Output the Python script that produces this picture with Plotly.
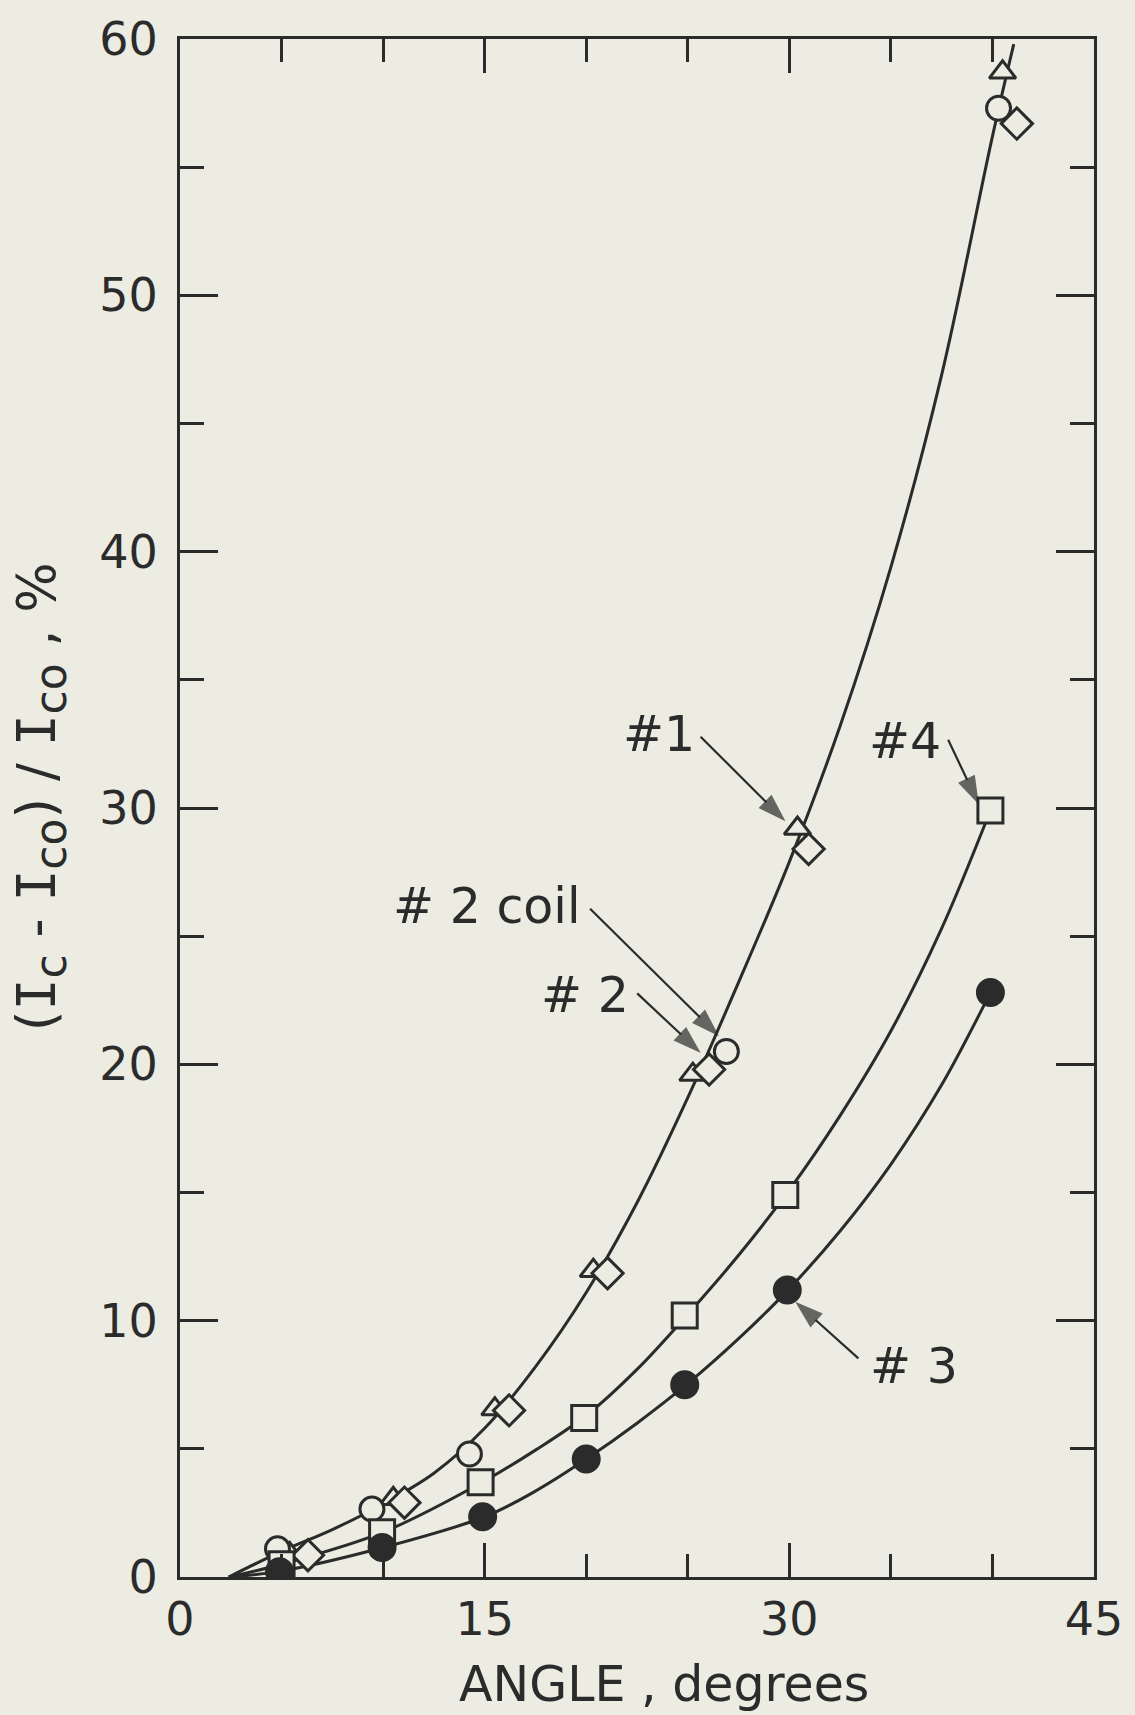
import plotly.graph_objects as go

BG = "#ecece2"
INK = "#2b2b2b"
FONT = "DejaVu Sans"

# ---- data ----
tri_x = [5.4, 10.5, 15.5, 20.35, 25.25, 30.4, 40.5]
tri_y = [0.9, 3.05, 6.55, 11.95, 19.6, 29.2, 58.7]
dia_x = [6.3, 11.05, 16.2, 21.05, 26.05, 30.95, 41.2]
dia_y = [0.85, 2.9, 6.5, 11.85, 19.8, 28.4, 56.7]
circ_x = [4.8, 9.45, 14.25, 26.9, 40.3]
circ_y = [1.1, 2.65, 4.8, 20.5, 57.3]
sq_x = [5.0, 9.95, 14.8, 19.9, 24.85, 29.8, 39.9]
sq_y = [0.5, 1.75, 3.7, 6.2, 10.2, 14.9, 29.9]
dot_x = [4.9, 9.95, 14.9, 20.0, 24.85, 29.9, 39.9]
dot_y = [0.2, 1.15, 2.35, 4.6, 7.5, 11.2, 22.8]

# smooth hand-drawn curves, positions
c_top_x = [2.4, 5.0, 7.5, 10.0, 12.5, 15.0, 17.5, 20.0, 22.5, 25.0, 27.5, 30.0, 32.5, 35.0, 37.5, 40.0, 41.05]
c_top_y = [0.0, 1.0, 1.85, 2.85, 4.05, 5.8, 8.2, 11.1, 14.6, 18.7, 23.2, 27.9, 33.2, 39.4, 46.9, 56.2, 59.8]
c_sq_x = [2.4, 5.0, 10.0, 15.0, 17.5, 20.0, 22.5, 25.0, 27.5, 30.0, 32.5, 35.0, 37.5, 39.9]
c_sq_y = [0.0, 0.5, 1.75, 3.75, 4.95, 6.3, 8.1, 10.25, 12.55, 15.1, 18.0, 21.3, 25.3, 29.9]
c_dot_x = [2.4, 4.9, 10.0, 15.0, 17.5, 20.0, 22.5, 25.0, 27.5, 30.0, 32.5, 35.0, 37.5, 39.9]
c_dot_y = [0.0, 0.22, 1.15, 2.35, 3.35, 4.6, 6.0, 7.55, 9.3, 11.25, 13.5, 16.1, 19.2, 22.8]

x_ticks = [0, 15, 30, 45]
x_minor = [5, 10, 20, 25, 35, 40]
y_ticks = [0, 10, 20, 30, 40, 50, 60]
y_minor = [5, 15, 25, 35, 45, 55]

# labels: text, (x, y) of text, anchor, arrow tail, arrow head
labels = [
    ("#1", 25.45, 32.85, "right", (25.63, 32.78), (29.81, 29.48)),
    ("#4", 37.55, 32.6, "right", (37.82, 32.66), (39.33, 30.14)),
    ("# 2 coil", 19.85, 26.14, "right", (20.19, 26.07), (26.54, 21.1)),
    ("# 2", 22.2, 22.69, "right", (22.51, 22.77), (25.64, 20.44)),
    ("# 3", 33.85, 8.22, "left", (33.4, 8.53), (30.29, 10.74)),
]

fig = go.Figure()

for cx, cy in [(c_top_x, c_top_y), (c_sq_x, c_sq_y), (c_dot_x, c_dot_y)]:
    fig.add_trace(go.Scatter(x=cx, y=cy, mode="lines",
                             line=dict(color=INK, width=3, shape="spline", smoothing=1.0),
                             hoverinfo="skip"))

def mk(x, y, symbol, size, filled=False):
    fig.add_trace(go.Scatter(
        x=x, y=y, mode="markers",
        marker=dict(symbol=symbol, size=size,
                    color=INK if filled else BG,
                    line=dict(color=INK, width=3))))

mk(tri_x, tri_y, "triangle-up", 23)
mk(dia_x, dia_y, "diamond", 24)
mk(circ_x, circ_y, "circle", 24)
mk(sq_x, sq_y, "square", 25)
mk(dot_x, dot_y, "circle", 26, filled=True)

for text, tx, ty, anc, tail, head in labels:
    fig.add_annotation(x=tx, y=ty, text=text, showarrow=False, xanchor=anc,
                       yanchor="middle", font=dict(family=FONT, size=49, color=INK))
    fig.add_trace(go.Scatter(
        x=[tail[0], head[0]], y=[tail[1], head[1]], mode="lines+markers",
        line=dict(color=INK, width=2.2),
        marker=dict(symbol=["circle", "arrow"], size=[0, 30], color=INK,
                    angleref="previous", line=dict(width=0)),
        hoverinfo="skip"))

axis_common = dict(
    showgrid=False, zeroline=False, showline=True, linewidth=3, linecolor=INK,
    mirror="ticks", ticks="inside", tickwidth=3, tickcolor=INK,
    tickfont=dict(family=FONT, size=46, color=INK),
    ticklabeloverflow="allow",
)

fig.update_xaxes(range=[0, 45], tickvals=x_ticks, ticklen=34,
                 minor=dict(tickvals=x_minor, ticklen=23, tickwidth=3,
                            tickcolor=INK, ticks="inside"),
                 **axis_common)
fig.update_yaxes(range=[0, 60], tickvals=y_ticks, ticklen=38,
                 ticklabelstandoff=10,
                 minor=dict(tickvals=y_minor, ticklen=24, tickwidth=3,
                            tickcolor=INK, ticks="inside"),
                 **axis_common)

I = "<span style=\"font-family:'DejaVu Sans Mono'\">I</span>"
def sub(s):
    return f"<sub><span style=\"font-size:44px\">{s}</span></sub>"
ytitle = f"({I}{sub('c')} - {I}{sub('co')}) / {I}{sub('co')} , %"
fig.add_annotation(xref="paper", yref="paper", x=0, y=0.507, xshift=-139,
                   text=ytitle, textangle=-90, showarrow=False,
                   xanchor="center", yanchor="middle",
                   font=dict(family=FONT, size=53, color=INK))
fig.add_annotation(xref="paper", yref="paper", x=0.529, y=0, yshift=-107,
                   text="ANGLE , degrees", showarrow=False,
                   xanchor="center", yanchor="middle",
                   font=dict(family=FONT, size=49, color=INK))

fig.update_layout(
    width=1135, height=1715,
    margin=dict(l=180, r=19, t=30, b=138),
    paper_bgcolor=BG, plot_bgcolor=BG,
    showlegend=False,
)

fig.write_html(
    "out.html",
    config={"displayModeBar": False},
    post_script=("document.body.style.margin='0';"
                 "document.body.style.background='" + BG + "';"
                 "document.documentElement.style.overflow='hidden';"),
)
